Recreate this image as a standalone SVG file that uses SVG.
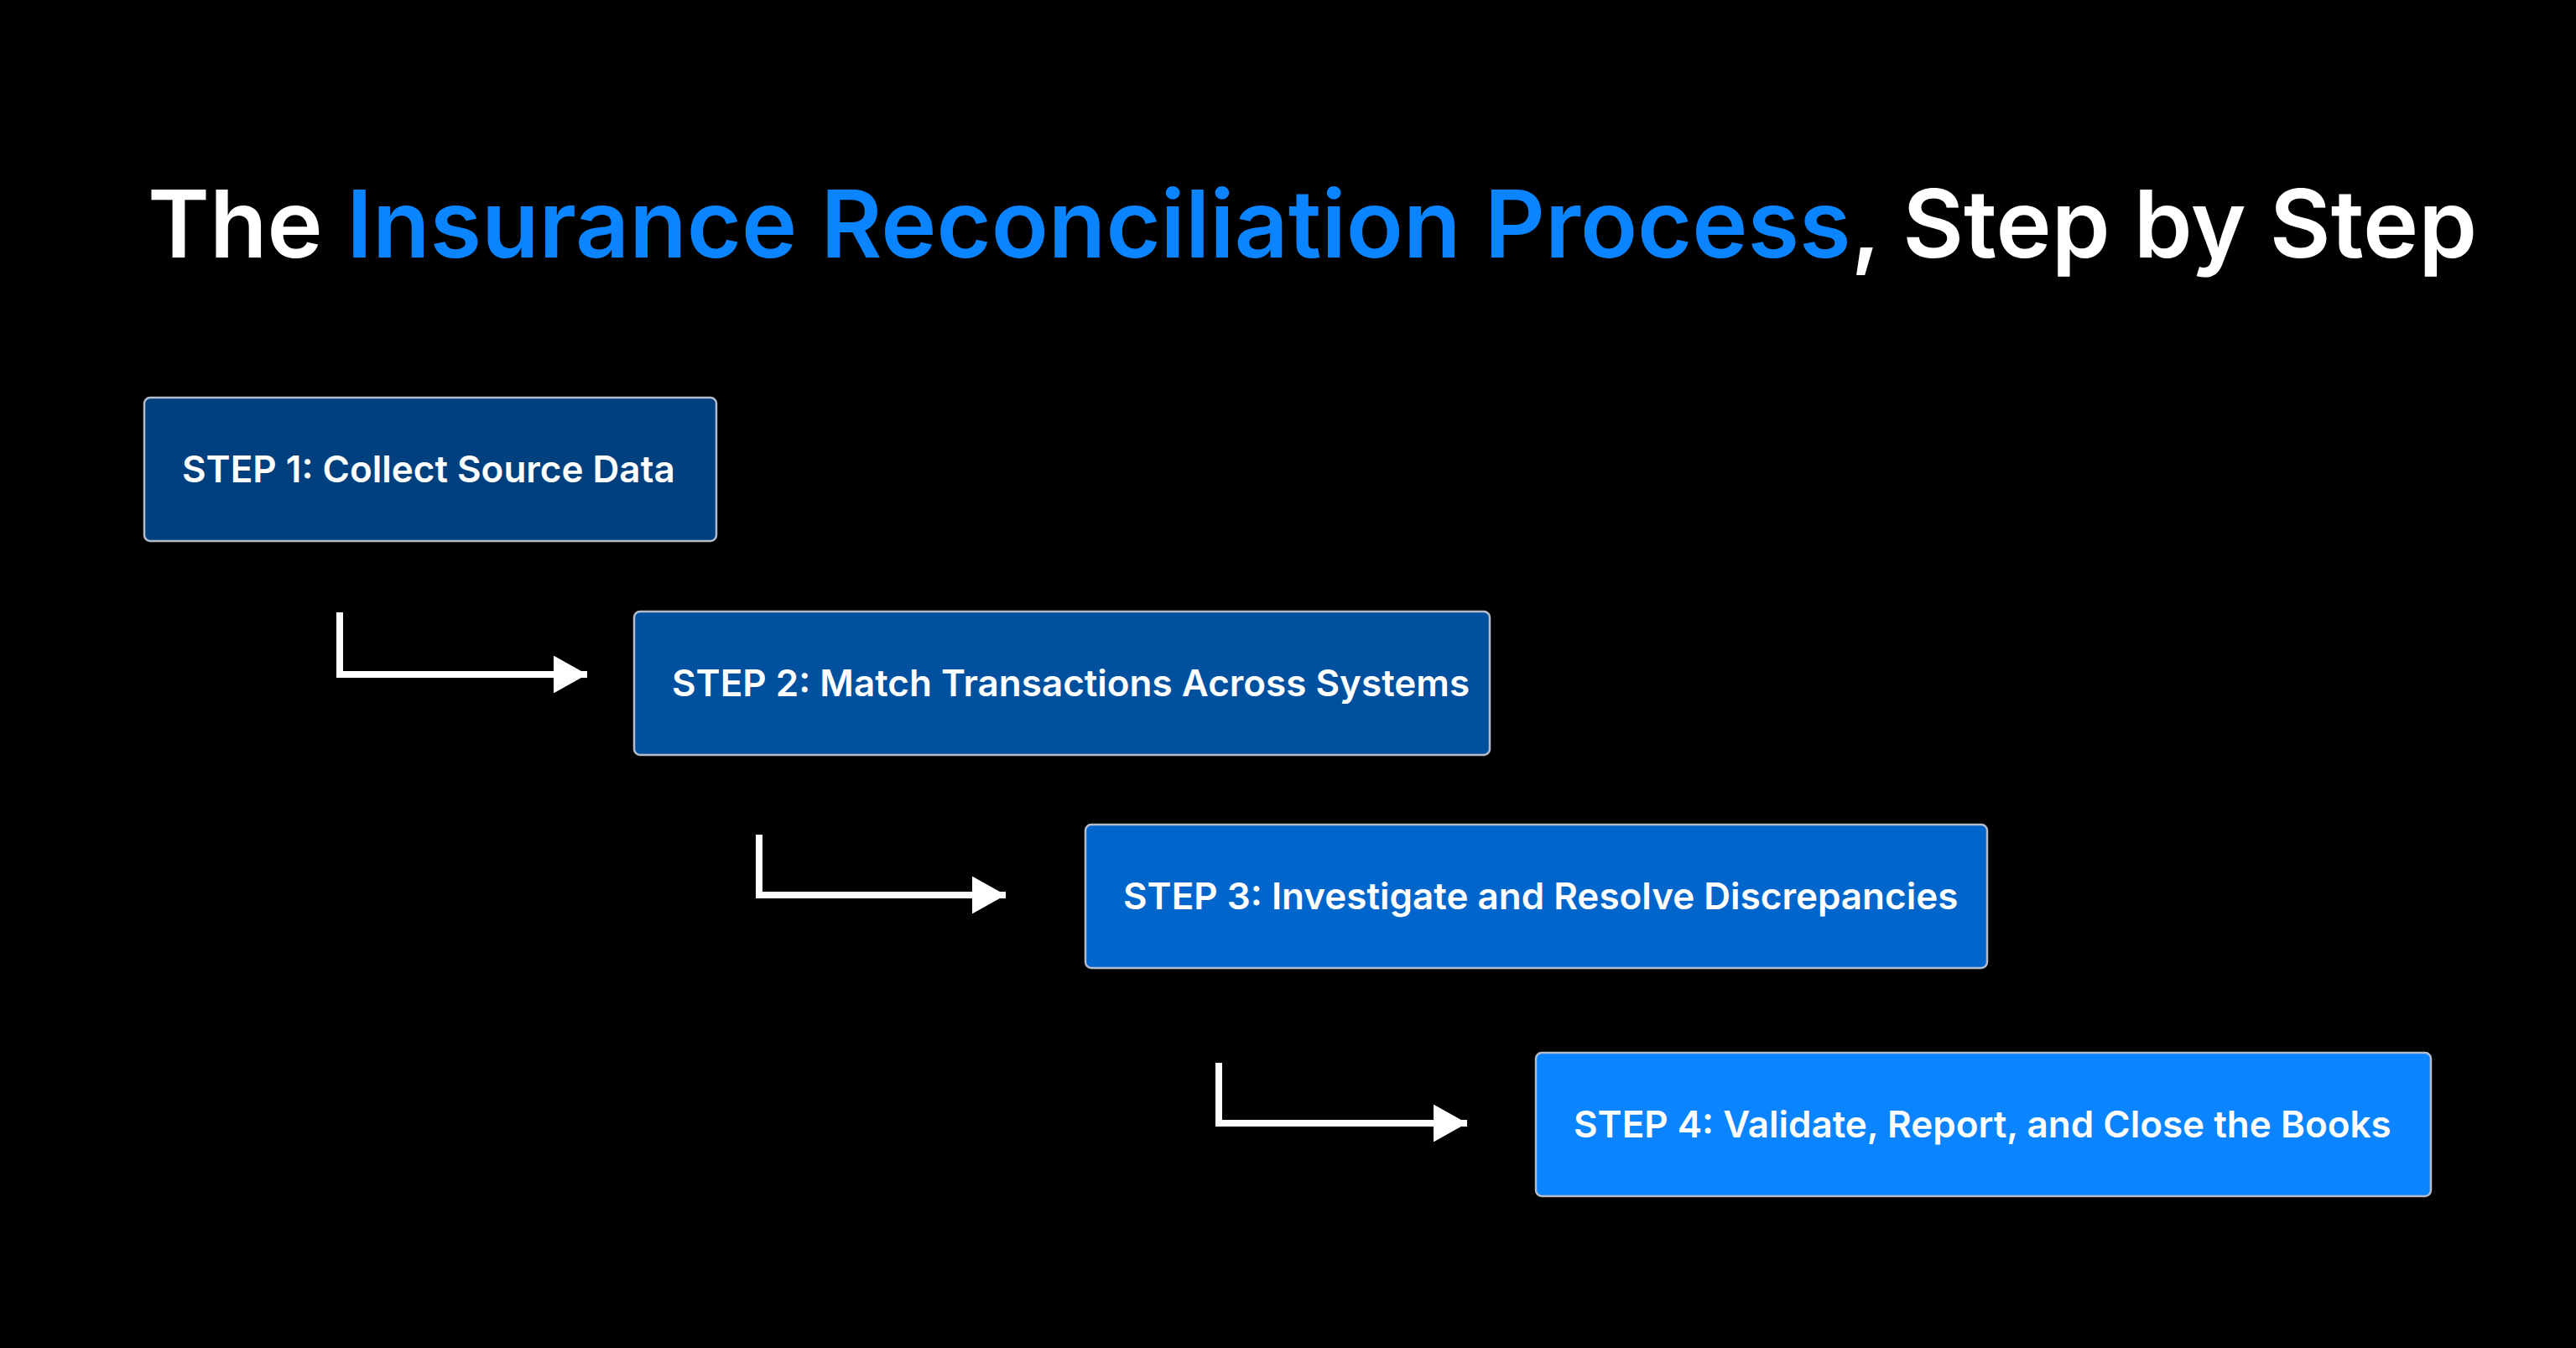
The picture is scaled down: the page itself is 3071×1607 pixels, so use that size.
<svg xmlns="http://www.w3.org/2000/svg" width="3071" height="1607" viewBox="0 0 3071 1607">
<style>
.box{stroke:#b4bccb;stroke-width:2.5}
.lbl{font-family:Inter,"Noto Sans",sans-serif;font-weight:600;font-size:44px;fill:#fff}
.title{font-family:Inter,"Noto Sans",sans-serif;font-weight:600;font-size:112px;fill:#fff}
.con{fill:none;stroke:#fff;stroke-width:8}
</style>
<defs><marker id="ah" viewBox="0 0 10 10" refX="10" refY="5" markerWidth="5" markerHeight="5.6" markerUnits="strokeWidth" orient="auto" preserveAspectRatio="none"><path d="M0 0L10 5L0 10Z" fill="#fff"/></marker></defs>
<rect width="3071" height="1607" fill="#000"/>
<text id="title" class="title" x="176" y="307">The <tspan fill="#0a84ff">Insurance Reconciliation Process</tspan>, Step by Step</text>
<g id="step1"><rect class="box" x="172" y="474" width="682" height="171" rx="7" fill="#00407f"/><text class="lbl" x="217" y="575">STEP 1: Collect Source Data</text></g>
<g id="step2"><rect class="box" x="756" y="729" width="1020" height="171" rx="7" fill="#0050a0"/><text class="lbl" x="801" y="830">STEP 2: Match Transactions Across Systems</text></g>
<g id="step3"><rect class="box" x="1294" y="983" width="1075" height="171" rx="7" fill="#0066cc"/><text class="lbl" x="1339" y="1084">STEP 3: Investigate and Resolve Discrepancies</text></g>
<g id="step4"><rect class="box" x="1831" y="1255" width="1067" height="171" rx="7" fill="#0a84ff"/><text class="lbl" x="1876" y="1356">STEP 4: Validate, Report, and Close the Books</text></g>
<g id="connectors">
<path class="con" d="M405 730V804H700" marker-end="url(#ah)"/>
<path class="con" d="M905 995V1067H1199" marker-end="url(#ah)"/>
<path class="con" d="M1453 1267V1339H1749" marker-end="url(#ah)"/>
</g>
</svg>
